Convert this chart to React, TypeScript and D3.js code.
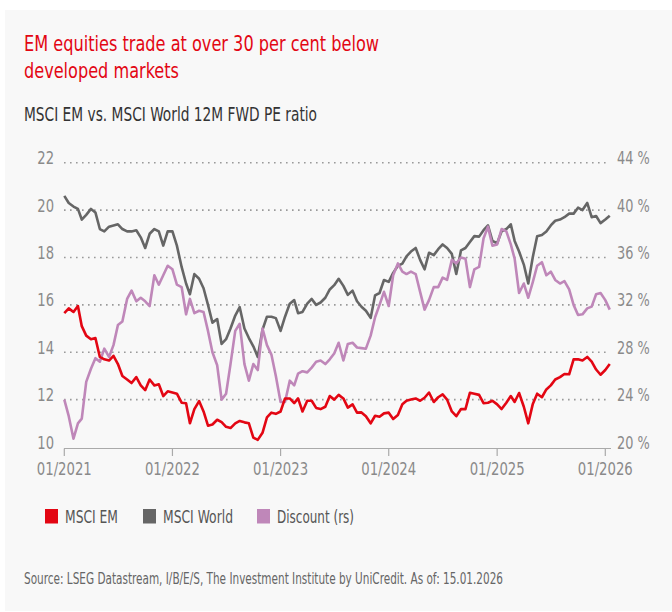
import * as d3 from "d3";
import React, { useRef, useEffect } from "react";

const W = 672;
const H = 612;

const FONT = "'Liberation Sans Narrow', 'DejaVu Sans Condensed', 'Liberation Sans', sans-serif";

// semi-monthly observations, starting 01/2021
const emPE = [
  15.65, 15.85, 15.7, 15.95, 15.1, 14.7, 14.55, 14.6, 13.8, 13.7, 13.65, 13.85, 13.5, 13.0, 12.85, 12.7,
  12.95, 12.6, 12.4, 12.85, 12.6, 12.65, 12.15, 12.35, 12.3, 12.25, 11.87, 11.85, 11.0, 11.6, 11.94,
  11.5, 10.9, 10.95, 11.15, 11.05, 10.85, 10.8, 11.0, 11.1, 11.04, 11.0, 10.4, 10.3, 10.6, 11.25,
  11.45, 11.4, 11.5, 12.05, 12.05, 11.85, 12.05, 11.5, 11.95, 11.95, 11.65, 11.6, 11.7, 12.15, 12.0,
  12.2, 12.05, 11.66, 11.8, 11.45, 11.46, 11.3, 11.0, 11.32, 11.28, 11.42, 11.45, 11.18, 11.35, 11.8,
  11.95, 12.0, 12.05, 11.95, 12.08, 12.3, 11.9, 12.1, 12.22, 12.0, 11.5, 11.3, 11.6, 11.6, 12.29,
  12.25, 12.2, 11.85, 11.87, 11.95, 11.8, 11.6, 11.87, 12.15, 11.9, 12.28, 11.7, 11.0, 11.8, 12.25,
  12.1, 12.43, 12.6, 12.85, 12.95, 13.08, 13.07, 13.7, 13.7, 13.65, 13.8, 13.6, 13.27, 13.05, 13.25, 13.5,
];

const worldPE = [
  20.6, 20.3, 20.15, 20.05, 19.6, 19.8, 20.05, 19.9, 19.2, 19.1, 19.3, 19.35, 19.4, 19.2, 19.1, 19.1,
  19.15, 18.85, 18.4, 19.0, 19.2, 19.1, 18.5, 19.1, 19.1, 18.5, 17.6, 16.9, 16.45, 17.3, 17.1,
  16.7, 16.0, 15.25, 15.4, 14.35, 14.55, 15.0, 15.55, 15.9, 15.0, 14.6, 14.25, 13.8, 14.95, 15.5,
  15.5, 15.44, 14.9, 15.5, 16.05, 16.2, 15.65, 15.7, 16.05, 16.25, 16.0, 16.1, 16.3, 16.65, 16.83,
  17.1, 16.8, 16.42, 16.6, 16.15, 15.92, 15.75, 15.45, 16.4, 16.5, 17.05, 16.97, 17.35, 17.65, 17.74,
  18.05, 18.25, 18.4, 17.9, 17.5, 18.2, 18.1, 18.35, 18.55, 18.4, 18.15, 17.3, 18.3, 18.4, 18.65,
  18.9, 18.88, 19.15, 19.35, 18.7, 18.6, 19.1, 19.2, 19.4, 18.7, 18.25, 17.7, 16.9, 18.0, 18.9,
  18.95, 19.1, 19.35, 19.55, 19.6, 19.7, 19.85, 19.85, 20.1, 20.0, 20.3, 19.7, 19.75, 19.45, 19.6, 19.76,
];

const discount = [
  24.0, 22.6, 20.7, 22.0, 22.4, 25.5, 26.6, 27.5, 27.2, 28.3, 27.6, 28.6, 30.3, 30.6, 32.5, 33.2,
  32.3, 32.6, 32.3, 31.9, 34.5, 33.7, 34.5, 35.3, 35.0, 33.7, 33.5, 31.2, 32.5, 31.3, 31.5,
  31.4, 29.8, 28.0, 26.9, 24.0, 24.5, 27.0, 29.8, 30.4, 27.0, 25.6, 27.0, 26.5, 30.0, 28.6,
  27.8, 26.0, 23.8, 23.8, 25.6, 25.2, 26.2, 26.4, 26.3, 26.7, 27.2, 27.3, 27.0, 27.4, 27.9,
  28.8, 27.3, 28.7, 28.8, 28.4, 28.35, 28.3, 29.4, 30.95, 32.0, 33.1, 31.9, 34.5, 35.5, 34.8,
  34.6, 34.8, 34.6, 33.1, 31.6, 32.4, 33.5, 33.5, 34.3, 34.1, 35.8, 35.5, 36.0, 35.9, 33.5,
  35.0, 35.2, 37.6, 38.6, 37.0, 37.1, 38.4, 38.2, 37.1, 35.9, 33.0, 33.8, 32.6, 33.9, 35.3,
  35.6, 34.5, 34.8, 34.1, 33.8, 34.0, 33.3, 32.0, 31.15, 31.2, 31.7, 31.85, 32.9, 33.0, 32.4, 31.6,
];

const leftTicks = [10, 12, 14, 16, 18, 20, 22];
const rightTicks = [20, 24, 28, 32, 36, 40, 44];
const yearTicks = [2021, 2022, 2023, 2024, 2025, 2026];

const legendItems = [
  { label: "MSCI EM", color: "#e30613" },
  { label: "MSCI World", color: "#666666" },
  { label: "Discount (rs)", color: "#bf87b9" },
];

const start = new Date(2021, 0, 1);
const dates = emPE.map((_, i) =>
  d3.timeDay.offset(d3.timeMonth.offset(start, Math.floor(i / 2)), (i % 2) * 15)
);

// squeeze text to the width it has in the original (its font is narrower)
const fit = (sel: any, w: number) => sel.attr("textLength", w).attr("lengthAdjust", "spacingAndGlyphs");

function App() {
  const ref = useRef<SVGSVGElement>(null);

  useEffect(() => {
    const svg = d3.select(ref.current);
    svg.selectAll("*").remove();

    const x = d3
      .scaleTime()
      .domain([new Date(2021, 0, 1), new Date(2026, 0, 1)])
      .range([64.3, 605.3]);
    const yL = d3.scaleLinear().domain([10, 22]).range([447, 162.7]);
    const yR = d3.scaleLinear().domain([20, 44]).range([447, 162.7]);

    svg.append("rect").attr("x", 5).attr("y", 10).attr("width", W - 5).attr("height", 601).attr("fill", "#f8f8f8");

    // titles
    const title = svg.append("g").attr("font-family", FONT).attr("fill", "#e30613").attr("font-size", 21.5);
    fit(title.append("text").attr("x", 24).attr("y", 51).text("EM equities trade at over 30 per cent below"), 355);
    fit(title.append("text").attr("x", 24).attr("y", 78).text("developed markets"), 155);
    fit(
      svg
        .append("text")
        .attr("x", 24)
        .attr("y", 120.5)
        .attr("font-family", FONT)
        .attr("font-size", 19.5)
        .attr("fill", "#333")
        .text("MSCI EM vs. MSCI World 12M FWD PE ratio"),
      293
    );

    // grid
    svg
      .append("g")
      .selectAll("line")
      .data(leftTicks.filter((d) => d > 10))
      .join("line")
      .attr("x1", 64)
      .attr("x2", 609)
      .attr("y1", (d) => yL(d))
      .attr("y2", (d) => yL(d))
      .attr("stroke", "#9a9a9a")
      .attr("stroke-width", 1.6)
      .attr("stroke-dasharray", "1.6,4.4");

    // axis
    const axisY = yL(10) + 1.5;
    svg.append("line").attr("x1", 64).attr("x2", 611).attr("y1", axisY).attr("y2", axisY).attr("stroke", "#aaa").attr("stroke-width", 1.2);
    const xt = svg.append("g").attr("font-family", FONT).attr("font-size", 17.5).attr("fill", "#8a8a8a");
    yearTicks.forEach((yr) => {
      const px = x(new Date(yr, 0, 1));
      xt.append("line").attr("x1", px).attr("x2", px).attr("y1", axisY).attr("y2", axisY + 7.5).attr("stroke", "#aaa").attr("stroke-width", 1.2);
      fit(
        xt.append("text").attr("x", px).attr("y", 475).attr("text-anchor", "middle").text(d3.timeFormat("01/%Y")(new Date(yr, 0, 1))),
        55
      );
    });

    const lt = svg.append("g").attr("font-family", FONT).attr("font-size", 17.5).attr("fill", "#8a8a8a");
    leftTicks.forEach((t) => {
      fit(lt.append("text").attr("x", 54).attr("y", yL(t) + 1.5).attr("text-anchor", "end").text(t), 16.7);
    });
    rightTicks.forEach((t) => {
      fit(lt.append("text").attr("x", 617).attr("y", yR(t) + 1.5).text(`${t} %`), 32.7);
    });

    // series
    const lineL = d3
      .line<number>()
      .x((_, i) => x(dates[i]))
      .y((d) => yL(d));
    const lineR = d3
      .line<number>()
      .x((_, i) => x(dates[i]))
      .y((d) => yR(d));

    const series = [
      { data: worldPE, gen: lineL, color: legendItems[1].color },
      { data: discount, gen: lineR, color: legendItems[2].color },
      { data: emPE, gen: lineL, color: legendItems[0].color },
    ];
    series.forEach((s) => {
      svg
        .append("path")
        .attr("d", s.gen(s.data))
        .attr("fill", "none")
        .attr("stroke", s.color)
        .attr("stroke-width", 2.6)
        .attr("stroke-linejoin", "round");
    });

    // legend
    const legX = [45, 143, 257];
    const legW = [53, 70, 77];
    const leg = svg.append("g").attr("font-family", FONT).attr("font-size", 17.5).attr("fill", "#555");
    legendItems.forEach((d, i) => {
      leg.append("rect").attr("x", legX[i]).attr("y", 509).attr("width", 13).attr("height", 14.5).attr("fill", d.color);
      fit(leg.append("text").attr("x", legX[i] + 20).attr("y", 523).text(d.label), legW[i]);
    });

    fit(
      svg
        .append("text")
        .attr("x", 24)
        .attr("y", 584)
        .attr("font-family", FONT)
        .attr("font-size", 15)
        .attr("fill", "#666")
        .text("Source: LSEG Datastream, I/B/E/S, The Investment Institute by UniCredit. As of: 15.01.2026"),
      479
    );
  }, []);

  return (
    <div style={{ position: "absolute", left: 0, top: 0 }}>
      <svg ref={ref} width={W} height={H} style={{ display: "block" }}></svg>
    </div>
  );
}

export default App;
